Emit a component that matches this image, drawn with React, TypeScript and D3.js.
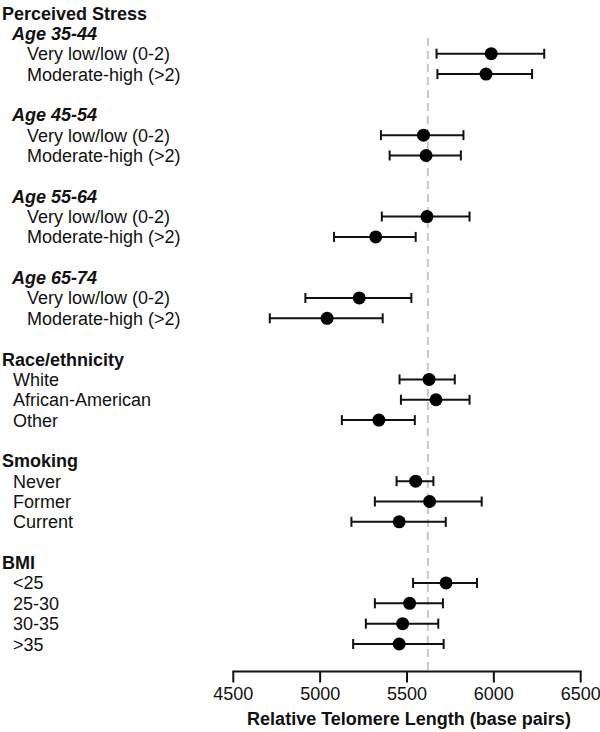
import React from "react";
import * as d3 from "d3";

const headerLabels = ["Perceived Stress", "Race/ethnicity", "Smoking", "BMI"];
const headerSlots = [0, 17, 22, 27];
const subheaderLabels = ["Age 35-44", "Age 45-54", "Age 55-64", "Age 65-74"];
const subheaderSlots = [1, 5, 9, 13];

const itemLabels = [
  "Very low/low (0-2)", "Moderate-high (>2)",
  "Very low/low (0-2)", "Moderate-high (>2)",
  "Very low/low (0-2)", "Moderate-high (>2)",
  "Very low/low (0-2)", "Moderate-high (>2)",
  "White", "African-American", "Other",
  "Never", "Former", "Current",
  "<25", "25-30", "30-35", ">35",
];
const itemSlots = [2, 3, 6, 7, 10, 11, 14, 15, 18, 19, 20, 23, 24, 25, 28, 29, 30, 31];
const itemLevel = [2, 2, 2, 2, 2, 2, 2, 2, 1, 1, 1, 1, 1, 1, 1, 1, 1, 1];

const estimates = [5985, 5955, 5595, 5610, 5615, 5320, 5225, 5040, 5627, 5667, 5338, 5550, 5630, 5455, 5725, 5515, 5475, 5455];
const lower = [5670, 5675, 5350, 5400, 5355, 5080, 4915, 4710, 5457, 5465, 5125, 5440, 5315, 5180, 5535, 5315, 5263, 5190];
const upper = [6290, 6220, 5825, 5810, 5860, 5550, 5525, 5360, 5775, 5860, 5545, 5652, 5930, 5723, 5903, 5707, 5680, 5711];

const referenceValue = 5620;
const xTicks = [4500, 5000, 5500, 6000, 6500];
const xTitle = "Relative Telomere Length (base pairs)";

export default function App() {
  const W = 600, H = 732;
  const x = d3.scaleLinear().domain([4500, 6500]).range([233.3, 580.7]);
  const y = d3.scaleLinear().domain([0, 31]).range([13, 644]);
  const axisY = 671.5;
  const font = "'Liberation Sans', Arial, Helvetica, sans-serif";
  const fs = 18;
  const indent = (lvl: number) => (lvl === 2 ? 27 : 13);

  return (
    <svg width={W} height={H} style={{ position: "absolute", left: 0, top: 0, background: "#fff" }} fontFamily={font}>
      <rect width={W} height={H} fill="#fff" />
      <line x1={x(referenceValue)} x2={x(referenceValue)} y1={38} y2={axisY} stroke="#c8c8c8" strokeWidth={2} strokeDasharray="8,5" />

      {headerLabels.map((t, i) => (
        <text key={"h" + i} x={2} y={y(headerSlots[i]) + 6.5} fontSize={fs} fontWeight="bold" fill="#111">{t}</text>
      ))}
      {subheaderLabels.map((t, i) => (
        <text key={"s" + i} x={12} y={y(subheaderSlots[i]) + 6.5} fontSize={fs} fontWeight="bold" fontStyle="italic" fill="#111">{t}</text>
      ))}
      {itemLabels.map((t, i) => (
        <text key={"i" + i} x={indent(itemLevel[i])} y={y(itemSlots[i]) + 6.5} fontSize={fs} fill="#111">{t}</text>
      ))}

      {itemLabels.map((_, i) => {
        const cy = y(itemSlots[i]);
        const x0 = x(lower[i]), x1 = x(upper[i]), cx = x(estimates[i]);
        return (
          <g key={"m" + i} stroke="#111" strokeWidth={2}>
            <line x1={x0} x2={x1} y1={cy} y2={cy} />
            <line x1={x0} x2={x0} y1={cy - 5} y2={cy + 5} />
            <line x1={x1} x2={x1} y1={cy - 5} y2={cy + 5} />
            <circle cx={cx} cy={cy} r={6.5} fill="#000" stroke="none" />
          </g>
        );
      })}

      <line x1={x(4500) - 1} x2={x(6500) + 1} y1={axisY} y2={axisY} stroke="#111" strokeWidth={2} />
      {xTicks.map((t) => (
        <g key={"t" + t}>
          <line x1={x(t)} x2={x(t)} y1={axisY} y2={axisY + 11} stroke="#111" strokeWidth={2} />
          <text x={x(t)} y={700} textAnchor="middle" fontSize={fs} fill="#111">{t}</text>
        </g>
      ))}
      <text x={409} y={725} textAnchor="middle" fontSize={fs} fontWeight="bold" fill="#111">{xTitle}</text>
    </svg>
  );
}
